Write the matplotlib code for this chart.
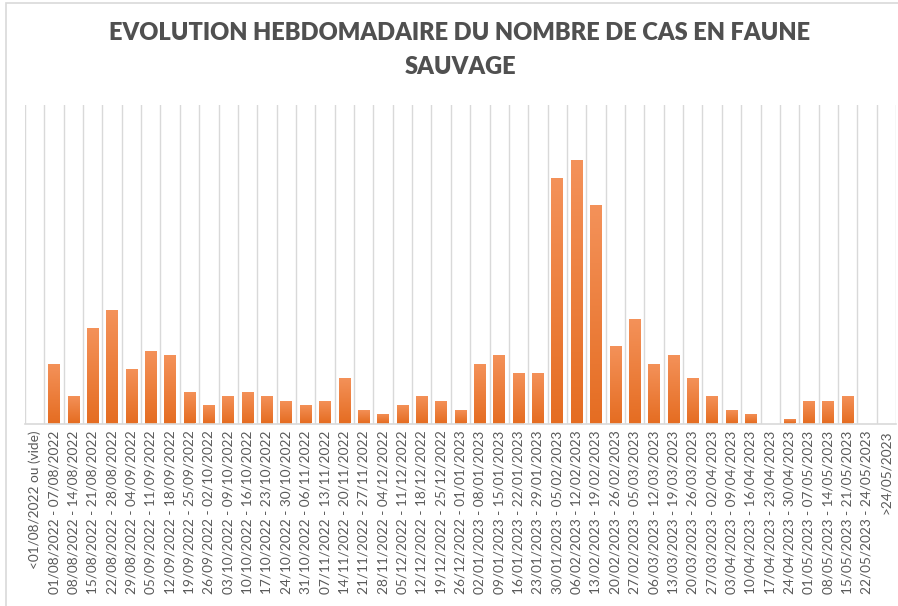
import numpy as np
import matplotlib
matplotlib.use("Agg")
import matplotlib.pyplot as plt
from matplotlib.colors import LinearSegmentedColormap
from matplotlib.patches import Rectangle

plt.rcParams["font.family"] = ["Lato", "DejaVu Sans"]

weeks = ["<01/08/2022 ou (vide)",
         "01/08/2022 - 07/08/2022", "08/08/2022 - 14/08/2022", "15/08/2022 - 21/08/2022",
         "22/08/2022 - 28/08/2022", "29/08/2022 - 04/09/2022", "05/09/2022 - 11/09/2022",
         "12/09/2022 - 18/09/2022", "19/09/2022 - 25/09/2022", "26/09/2022 - 02/10/2022",
         "03/10/2022 - 09/10/2022", "10/10/2022 - 16/10/2022", "17/10/2022 - 23/10/2022",
         "24/10/2022 - 30/10/2022", "31/10/2022 - 06/11/2022", "07/11/2022 - 13/11/2022",
         "14/11/2022 - 20/11/2022", "21/11/2022 - 27/11/2022", "28/11/2022 - 04/12/2022",
         "05/12/2022 - 11/12/2022", "12/12/2022 - 18/12/2022", "19/12/2022 - 25/12/2022",
         "26/12/2022 - 01/01/2023", "02/01/2023 - 08/01/2023", "09/01/2023 - 15/01/2023",
         "16/01/2023 - 22/01/2023", "23/01/2023 - 29/01/2023", "30/01/2023 - 05/02/2023",
         "06/02/2023 - 12/02/2023", "13/02/2023 - 19/02/2023", "20/02/2023 - 26/02/2023",
         "27/02/2023 - 05/03/2023", "06/03/2023 - 12/03/2023", "13/03/2023 - 19/03/2023",
         "20/03/2023 - 26/03/2023", "27/03/2023 - 02/04/2023", "03/04/2023 - 09/04/2023",
         "10/04/2023 - 16/04/2023", "17/04/2023 - 23/04/2023", "24/04/2023 - 30/04/2023",
         "01/05/2023 - 07/05/2023", "08/05/2023 - 14/05/2023", "15/05/2023 - 21/05/2023",
         "22/05/2023 - 24/05/2023", ">24/05/2023"]

cases = [0, 13, 6, 21, 25, 12, 16, 15, 7, 4, 6, 7, 6, 5, 4, 5, 10, 3, 2, 4, 6, 5, 3,
         13, 15, 11, 11, 54, 58, 48, 17, 23, 13, 15, 10, 6, 3, 2, 0, 1, 5, 5, 6, 0, 0]

W, H = 898, 606
fig = plt.figure(figsize=(W/100, H/100), dpi=100)
fig.patch.set_facecolor("white")

# chart frame (Excel style)
fig.patches.append(Rectangle((6/W, -0.1), 1.1, 1 - 3/H + 0.1, transform=fig.transFigure,
                             fill=False, ec="#d9d9d9", lw=1.2))

ax = fig.add_axes([25/W, 1 - 423.5/H, (896-25)/W, (423.5-105)/H])
x = np.arange(len(weeks))

# vertical gridlines between categories
for b in np.arange(-0.5, len(weeks), 1):
    ax.axvline(b, color="#d9d9d9", lw=1, zorder=0)

cmap = LinearSegmentedColormap.from_list("org", ["#e56d22", "#f4925a"])
grad = np.linspace(0, 1, 256).reshape(-1, 1)
bars = ax.bar(x, cases, width=0.6, color="#ed7d31", zorder=2)
for bar in bars:
    h = bar.get_height()
    if h <= 0:
        continue
    x0 = bar.get_x()
    im = ax.imshow(grad, cmap=cmap, origin="lower", aspect="auto",
                   extent=(x0, x0 + bar.get_width(), 0, h), zorder=3)
    im.set_clip_path(bar)
ax.set_xlim(-0.5, len(weeks) - 0.5)
ax.set_ylim(0, 70)

for s in ["top", "right", "left"]:
    ax.spines[s].set_visible(False)
ax.spines["bottom"].set_color("#d9d9d9")
ax.spines["bottom"].set_linewidth(1.2)
ax.set_yticks([])
ax.set_xticks(x)
ax.set_xticklabels(weeks, rotation=90, fontsize=9.8, color="#595959")
ax.tick_params(axis="x", length=0, pad=5)

fig.text(460/W, 1 - 33/H, "EVOLUTION HEBDOMADAIRE DU NOMBRE DE CAS EN FAUNE",
         ha="center", va="center", fontsize=17, fontweight="heavy", color="#505050")
fig.text(460/W, 1 - 67/H, "SAUVAGE",
         ha="center", va="center", fontsize=17, fontweight="heavy", color="#505050")

fig.savefig("out.png", dpi=100, facecolor="white")
